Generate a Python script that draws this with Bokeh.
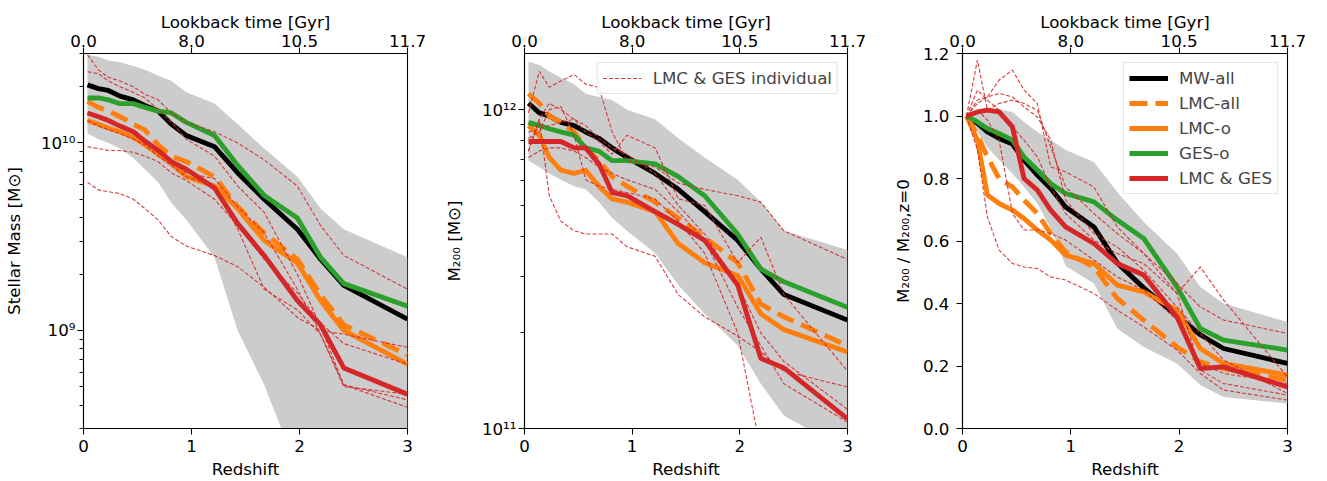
from bokeh.plotting import figure
from bokeh.models import (Range1d, LinearAxis, FixedTicker, Legend, LegendItem,
                          PrintfTickFormatter)
from bokeh.layouts import row
from bokeh.embed import file_html
from bokeh.resources import INLINE

FONT = "DejaVu Sans"
FS = "16.7px"

# ---------------- data ----------------
redshift = [0.037, 0.138, 0.23, 0.338, 0.461, 0.568, 0.691, 0.814, 0.952,
            1.213, 1.428, 1.673, 1.98, 2.195, 2.41, 3.0]
z_ticks = [0, 1, 2, 3]
lookback_labels = ["0.0", "8.0", "10.5", "11.7"]

# Panel 1: log10 stellar mass [Msun]
mstar_mw = [10.31, 10.29, 10.28, 10.25, 10.23, 10.20, 10.17, 10.10, 10.04, 9.98, 9.84, 9.70, 9.54, 9.38, 9.24, 9.06]
mstar_lmc_all = [10.22, 10.19, 10.17, 10.14, 10.10, 10.07, 9.99, 9.93, 9.90, 9.82, 9.66, 9.52, 9.38, 9.19, 9.03, 8.87]
mstar_lmc_o = [10.12, 10.10, 10.08, 10.06, 10.03, 9.99, 9.94, 9.89, 9.82, 9.77, 9.65, 9.48, 9.36, 9.16, 9.00, 8.82]
mstar_ges_o = [10.24, 10.24, 10.23, 10.21, 10.21, 10.19, 10.17, 10.16, 10.11, 10.04, 9.88, 9.72, 9.60, 9.39, 9.25, 9.13]
mstar_both = [10.16, 10.14, 10.12, 10.09, 10.06, 10.01, 9.96, 9.90, 9.86, 9.76, 9.57, 9.40, 9.16, 9.03, 8.80, 8.66]
mstar_hi = [10.47, 10.46, 10.44, 10.43, 10.41, 10.39, 10.36, 10.33, 10.27, 10.21, 10.10, 9.97, 9.82, 9.65, 9.54, 9.39]
mstar_lo = [10.05, 10.02, 10.00, 9.97, 9.92, 9.86, 9.79, 9.68, 9.59, 9.39, 9.00, 8.71, 8.26, 8.09, 7.91, 7.55]
mstar_individual = [
    [10.47, 10.39, 10.35, 10.33, 10.30, 10.26, 10.23, 10.16, 10.11, 10.06, 10.00, 9.91, 9.77, 9.56, 9.40, 9.22],
    [10.38, 10.37, 10.33, 10.30, 10.27, 10.24, 10.18, 10.11, 10.02, 9.93, 9.77, 9.63, 9.30, 9.02, 8.71, 8.63],
    [10.16, 10.15, 10.13, 10.09, 10.06, 10.01, 9.97, 9.90, 9.84, 9.81, 9.66, 9.52, 9.22, 8.98, 8.71, 8.59],
    [10.12, 10.09, 10.07, 10.05, 10.02, 9.99, 9.93, 9.88, 9.82, 9.77, 9.54, 9.22, 9.11, 8.98, 8.70, 8.66],
    [9.98, 9.97, 9.96, 9.96, 9.95, 9.93, 9.90, 9.84, 9.80, 9.70, 9.56, 9.38, 9.20, 9.04, 8.93, 8.82],
    [9.79, 9.75, 9.74, 9.73, 9.70, 9.65, 9.59, 9.50, 9.45, 9.40, 9.34, 9.23, 9.07, 9.00, 8.98, 8.91],
]

# Panel 2: log10 M200 [Msun]
m200_mw = [12.02, 11.99, 11.98, 11.96, 11.95, 11.93, 11.91, 11.88, 11.85, 11.80, 11.75, 11.68, 11.59, 11.50, 11.42, 11.34]
m200_lmc_all = [12.05, 12.02, 11.98, 11.96, 11.93, 11.88, 11.84, 11.79, 11.76, 11.71, 11.66, 11.60, 11.52, 11.39, 11.35, 11.26]
m200_lmc_o = [11.95, 11.92, 11.85, 11.81, 11.80, 11.81, 11.76, 11.72, 11.71, 11.68, 11.58, 11.52, 11.48, 11.36, 11.31, 11.24]
m200_ges_o = [11.96, 11.95, 11.94, 11.93, 11.92, 11.88, 11.87, 11.84, 11.84, 11.83, 11.79, 11.73, 11.61, 11.50, 11.46, 11.38]
m200_both = [11.90, 11.90, 11.90, 11.90, 11.88, 11.88, 11.83, 11.74, 11.73, 11.68, 11.64, 11.59, 11.45, 11.22, 11.19, 11.03]
m200_hi = [12.15, 12.14, 12.12, 12.10, 12.08, 12.05, 12.04, 12.03, 12.00, 11.97, 11.91, 11.85, 11.78, 11.71, 11.62, 11.56]
m200_lo = [11.84, 11.82, 11.80, 11.78, 11.76, 11.75, 11.71, 11.66, 11.62, 11.55, 11.45, 11.36, 11.26, 11.14, 11.04, 10.93]
m200_individual = [
    [11.99, 12.12, 12.07, 12.09, 12.11, 12.08, 12.07, 11.93, 11.84, 11.82, 11.77, 11.75, 11.73, 11.71, 11.62, 11.53],
    [11.87, 11.97, 12.02, 12.00, 11.97, 11.93, 11.90, 11.86, 11.92, 11.88, 11.72, 11.70, 11.52, 11.60, 11.42, 11.18],
    [11.87, 11.97, 11.73, 11.65, 11.62, 11.61, 11.61, 11.61, 11.57, 11.54, 11.42, 11.35, 11.29, 11.24, 11.18, 11.13],
    [11.91, 11.93, 12.00, 12.01, 11.92, 11.78, 11.76, 11.75, 11.74, 11.72, 11.65, 11.55, 11.30, 10.93, 10.83, 10.67],
    [11.93, 11.94, 11.95, 11.96, 11.97, 11.95, 11.91, 11.88, 11.86, 11.80, 11.70, 11.61, 11.45, 11.30, 11.21, 11.06],
    [11.85, 11.87, 11.88, 11.88, 11.87, 11.85, 11.82, 11.80, 11.78, 11.75, 11.68, 11.59, 11.38, 11.26, 11.14, 11.02],
]

# Panel 3: M200 / M200(z=0)
ratio_mw = [1.0, 0.976, 0.949, 0.928, 0.910, 0.859, 0.811, 0.768, 0.709, 0.645, 0.53, 0.45, 0.36, 0.30, 0.256, 0.208]
ratio_lmc_all = [1.0, 0.939, 0.869, 0.800, 0.773, 0.731, 0.688, 0.624, 0.565, 0.517, 0.416, 0.347, 0.261, 0.213, 0.192, 0.155]
ratio_lmc_o = [1.0, 0.923, 0.747, 0.720, 0.699, 0.672, 0.635, 0.603, 0.555, 0.528, 0.459, 0.437, 0.379, 0.256, 0.208, 0.171]
ratio_ges_o = [1.0, 0.981, 0.960, 0.944, 0.923, 0.869, 0.827, 0.784, 0.752, 0.725, 0.667, 0.608, 0.453, 0.320, 0.283, 0.251]
ratio_both = [1.0, 1.013, 1.019, 1.013, 0.965, 0.800, 0.763, 0.699, 0.645, 0.592, 0.528, 0.491, 0.357, 0.192, 0.197, 0.133]
ratio_hi = [1.003, 1.013, 1.021, 1.021, 1.013, 0.981, 0.949, 0.923, 0.891, 0.853, 0.757, 0.661, 0.560, 0.453, 0.400, 0.341]
ratio_lo = [0.997, 0.950, 0.900, 0.859, 0.816, 0.773, 0.720, 0.640, 0.520, 0.464, 0.320, 0.261, 0.208, 0.139, 0.101, 0.080]
ratio_individual = [
    [1.0, 1.179, 1.019, 1.040, 1.051, 1.040, 1.019, 0.901, 0.773, 0.688, 0.624, 0.560, 0.464, 0.389, 0.347, 0.304],
    [1.0, 1.051, 1.061, 1.115, 1.147, 1.083, 1.040, 0.837, 0.821, 0.773, 0.645, 0.560, 0.432, 0.517, 0.411, 0.165],
    [1.0, 1.083, 1.051, 1.019, 0.965, 0.923, 0.869, 0.773, 0.688, 0.603, 0.560, 0.528, 0.432, 0.187, 0.144, 0.107],
    [1.0, 0.891, 0.677, 0.571, 0.528, 0.517, 0.512, 0.485, 0.475, 0.432, 0.379, 0.325, 0.251, 0.176, 0.123, 0.091],
    [1.0, 1.019, 0.987, 0.923, 0.688, 0.635, 0.635, 0.624, 0.603, 0.539, 0.485, 0.443, 0.347, 0.208, 0.176, 0.144],
    [1.0, 1.040, 1.061, 1.072, 1.061, 1.029, 0.997, 0.923, 0.731, 0.624, 0.581, 0.507, 0.389, 0.304, 0.219, 0.112],
]

series_names = ["MW-all", "LMC-all", "LMC-o", "GES-o", "LMC & GES"]
series_colors = ["black", "#ff7f0e", "#ff7f0e", "#2ca02c", "#d62728"]
series_dash = ["solid", "18 8", "solid", "solid", "solid"]
individual_label = "LMC & GES individual"

BAND = "#cccccc"
IND_COLOR = "#d62728"
MAIN_W = 4.86
AX_W = 1.1


def unlog(a):
    return [10 ** v for v in a]


def make_fig(width, left, right, y_range, y_type, ylabel):
    p = figure(width=width, height=481, x_range=Range1d(0, 3), y_range=y_range,
               y_axis_type=y_type, output_backend="svg", toolbar_location=None,
               min_border_left=left, min_border_right=right,
               min_border_top=53, min_border_bottom=53)
    p.xgrid.grid_line_color = None
    p.ygrid.grid_line_color = None
    p.outline_line_color = "black"
    p.outline_line_width = AX_W
    p.outline_line_alpha = 1.0
    p.background_fill_color = "white"
    p.border_fill_color = "white"

    top = LinearAxis(ticker=FixedTicker(ticks=z_ticks),
                     major_label_overrides={t: l for t, l in zip(z_ticks, lookback_labels)},
                     axis_label="Lookback time [Gyr]")
    p.add_layout(top, "above")

    p.xaxis.ticker = FixedTicker(ticks=z_ticks)
    p.below[0].axis_label = "Redshift"
    p.left[0].axis_label = ylabel
    for ax in p.xaxis + p.yaxis:
        ax.axis_label_text_font = FONT
        ax.axis_label_text_font_size = FS
        ax.axis_label_text_font_style = "normal"
        ax.axis_label_text_color = "black"
        ax.major_label_text_font = FONT
        ax.major_label_text_font_size = FS
        ax.major_label_text_color = "black"
        ax.axis_line_width = AX_W
        ax.major_tick_line_width = AX_W
        ax.minor_tick_line_width = 0.9
        ax.major_tick_out = 6
        ax.major_tick_in = 0
        ax.minor_tick_in = 0
    for ax in p.xaxis:
        ax.minor_tick_out = 0
    p.above[0].major_label_standoff = 1
    p.above[0].axis_label_standoff = 0
    p.below[0].major_label_standoff = 5
    p.below[0].axis_label_standoff = 4
    for ax in p.yaxis:
        ax.minor_tick_out = 4
        ax.major_label_standoff = 2
    return p


def draw(p, x, band_lo, band_hi, lines, individual, legend_main, legend_ind):
    p.varea(x=x, y1=band_lo, y2=band_hi, fill_color=BAND, fill_alpha=1.0)
    main_r = []
    for ys, name, col, dash in zip(lines, series_names, series_colors, series_dash):
        r = p.line(x, ys, line_color=col, line_width=MAIN_W, line_dash=dash,
                   line_join="round")
        main_r.append((name, r))
    ind_r = []
    for ys in individual:
        r = p.line(x, ys, line_color=IND_COLOR, line_width=1.1, line_dash="4 2",
                   line_alpha=0.9)
        ind_r.append(r)
    items = []
    if legend_main:
        items = [LegendItem(label=n, renderers=[r]) for n, r in main_r]
    if legend_ind:
        items = [LegendItem(label=individual_label, renderers=[ind_r[0]])]
    if items:
        leg = Legend(items=items, location="top_right", margin=9,
                     label_text_font=FONT, label_text_font_size=FS,
                     label_standoff=11, glyph_width=39, glyph_height=20,
                     label_height=20, spacing=5, padding=5,
                     border_line_color="#cccccc", border_line_width=1,
                     background_fill_color="white", background_fill_alpha=0.8)
        p.add_layout(leg)


# ---------- panel 1 ----------
p1 = make_fig(440, 82, 33, Range1d(3e8, 3e10), "log", "Stellar Mass [M\u2299]")
p1.yaxis.ticker = FixedTicker(
    ticks=[1e9, 1e10],
    minor_ticks=[k * 1e8 for k in range(3, 10)] + [k * 1e9 for k in range(2, 10)] + [2e10, 3e10])
p1.yaxis.major_label_overrides = {1e9: "10\u2079", 1e10: "10\u00b9\u2070"}
p1.yaxis.axis_label_standoff = 14
draw(p1, redshift, unlog(mstar_lo), unlog(mstar_hi),
     [unlog(a) for a in [mstar_mw, mstar_lmc_all, mstar_lmc_o, mstar_ges_o, mstar_both]],
     [unlog(a) for a in mstar_individual], False, False)

# ---------- panel 2 ----------
p2 = make_fig(441, 82, 34, Range1d(1e11, 1.5e12), "log", "M\u2082\u2080\u2080 [M\u2299]")
p2.yaxis.ticker = FixedTicker(
    ticks=[1e11, 1e12],
    minor_ticks=[k * 1e11 for k in range(2, 10)])
p2.yaxis.major_label_overrides = {1e11: "10\u00b9\u00b9", 1e12: "10\u00b9\u00b2"}
p2.yaxis.axis_label_standoff = 15
draw(p2, redshift, unlog(m200_lo), unlog(m200_hi),
     [unlog(a) for a in [m200_mw, m200_lmc_all, m200_lmc_o, m200_ges_o, m200_both]],
     [unlog(a) for a in m200_individual], False, True)

# ---------- panel 3 ----------
p3 = make_fig(446, 81, 40, Range1d(0, 1.2), "linear",
              "M\u2082\u2080\u2080 / M\u2082\u2080\u2080,z=0")
p3.yaxis.ticker = FixedTicker(ticks=[0, 0.2, 0.4, 0.6, 0.8, 1.0, 1.2])
p3.yaxis.formatter = PrintfTickFormatter(format="%.1f")
p3.yaxis.minor_tick_out = 0
p3.yaxis.major_label_standoff = 7
p3.yaxis.axis_label_standoff = 7
draw(p3, redshift, ratio_lo, ratio_hi,
     [ratio_mw, ratio_lmc_all, ratio_lmc_o, ratio_ges_o, ratio_both],
     ratio_individual, True, False)

layout = row(p1, p2, p3)
open("out.html", "w").write(file_html(layout, INLINE))
